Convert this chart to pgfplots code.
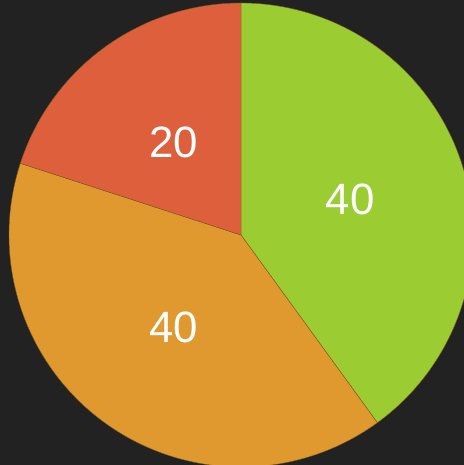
\documentclass[border=0pt]{standalone}
\usepackage{pgfplots}
\pgfplotsset{compat=1.18}
\usepackage{fontspec}
\setmainfont{Liberation Sans}
\definecolor{bg}{HTML}{222222}
\definecolor{cgreen}{HTML}{9BCD32}
\definecolor{corange}{HTML}{E0992F}
\definecolor{cred}{HTML}{DE5F3C}
\definecolor{edge}{HTML}{7A5A20}
\begin{document}
\begin{tikzpicture}
\begin{axis}[
  width=464bp, height=465bp, scale only axis,
  xmin=-1.0388, xmax=0.9612, ymin=-0.9914, ymax=1.0129,
  axis line style={draw=none}, xtick=\empty, ytick=\empty,
  axis background/.style={fill=bg},
  clip=true,
]
% values: 40 (green), 40 (orange), 20 (red); start at 90 deg, clockwise
% green: 90 -> 90-144 = -54
\addplot[fill=cgreen, draw=edge, line width=0.4pt, domain=90:-54, samples=120, variable=\t]
  ({cos(\t)},{sin(\t)}) -- (axis cs:0,0) -- cycle;
% orange: -54 -> -198
\addplot[fill=corange, draw=edge, line width=0.4pt, domain=-54:-198, samples=120, variable=\t]
  ({cos(\t)},{sin(\t)}) -- (axis cs:0,0) -- cycle;
% red: -198 -> -270
\addplot[fill=cred, draw=edge, line width=0.4pt, domain=-198:-270, samples=60, variable=\t]
  ({cos(\t)},{sin(\t)}) -- (axis cs:0,0) -- cycle;
\addplot[only marks, mark=none, nodes near coords, point meta=explicit symbolic,
  nodes near coords style={font=\fontsize{44}{44}\selectfont, text=white, anchor=center}]
  coordinates {
    (0.4700,0.1527) [40]
    (-0.2906,-0.3999) [40]
    (-0.2906,0.3999) [20]
  };
\end{axis}
\end{tikzpicture}
\end{document}
